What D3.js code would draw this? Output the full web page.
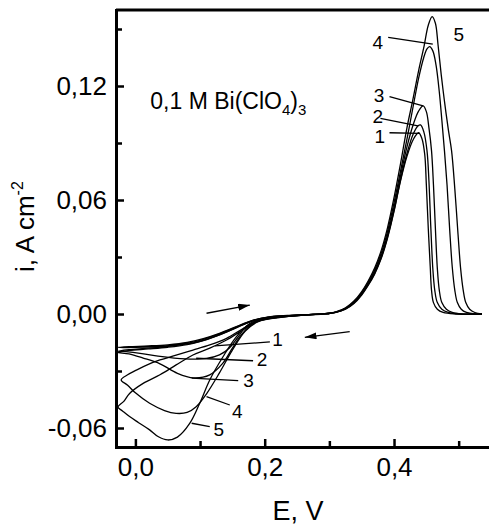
<!DOCTYPE html>
<html>
<head>
<meta charset="utf-8">
<script src="https://cdn.jsdelivr.net/npm/d3@7"></script>
<style>
  body { margin: 0; background: #fff; }
  svg { display: block; font-family: "Liberation Sans", Arial, sans-serif; }
</style>
</head>
<body>
<div id="chart"></div>
<script>
////////////////////////////////////////////////////////////////////////
// Data: voltammograms, [E (V), i (A cm-2)]
// each one starts at ~0.3 V, goes left through the cathodic dip,
// comes back and runs over the stripping peak to the right end

const cv1 = [[0.30,0.0002],[0.26,-0.0004],[0.22,-0.0013],[0.19,-0.0028],[0.165,-0.0058],[0.14,-0.0095],[0.115,-0.0128],[0.09,-0.0152],[0.06,-0.0166],[0.03,-0.0173],[0.0,-0.0176],[-0.027,-0.0176],
  [-0.01,-0.0172],[0.02,-0.0168],[0.05,-0.0162],[0.08,-0.0150],[0.105,-0.0130],[0.13,-0.0102],[0.155,-0.0068],[0.18,-0.0035],[0.205,-0.0016],[0.235,-0.0008],[0.265,-0.0004],[0.29,0.0],[0.31,0.0008],[0.325,0.0025],[0.338,0.0055],[0.35,0.0100],[0.36,0.0150],[0.37,0.0210],[0.38,0.0290],[0.39,0.0400],[0.40,0.0540],[0.41,0.0700],[0.42,0.0830],[0.43,0.0920],[0.438,0.0954],[0.443,0.0925],[0.4475,0.084],[0.450,0.068],[0.453,0.045],[0.456,0.025],[0.458,0.0126],[0.461,0.006],[0.467,0.0025],[0.476,0.0008],[0.495,0.0],[0.536,0.0]];

const cv2 = [[0.30,0.0002],[0.26,-0.0005],[0.22,-0.0016],[0.19,-0.0035],[0.172,-0.0065],[0.158,-0.0125],[0.145,-0.018],[0.13,-0.0215],[0.11,-0.0234],[0.09,-0.0238],[0.06,-0.0232],[0.035,-0.0222],[0.01,-0.0208],[-0.015,-0.0198],[-0.027,-0.0196],
  [-0.01,-0.0188],[0.02,-0.0180],[0.05,-0.0170],[0.08,-0.0155],[0.105,-0.0133],[0.13,-0.0104],[0.155,-0.0070],[0.18,-0.0036],[0.205,-0.0017],[0.235,-0.0009],[0.265,-0.0004],[0.29,0.0001],[0.31,0.0009],[0.325,0.0027],[0.338,0.0058],[0.35,0.0103],[0.36,0.0154],[0.37,0.0214],[0.38,0.0295],[0.39,0.0405],[0.40,0.0545],[0.41,0.0705],[0.42,0.0845],[0.43,0.0950],[0.437,0.0990],[0.441,0.0995],[0.446,0.096],[0.451,0.086],[0.454,0.070],[0.457,0.045],[0.460,0.024],[0.463,0.0126],[0.467,0.006],[0.474,0.0025],[0.484,0.0008],[0.50,0.0],[0.536,0.0]];

const cv3 = [[0.30,0.0002],[0.26,-0.0006],[0.22,-0.0018],[0.19,-0.0038],[0.178,-0.006],[0.165,-0.0105],[0.15,-0.018],[0.135,-0.026],[0.115,-0.032],[0.09,-0.0336],[0.065,-0.0312],[0.038,-0.0262],[0.012,-0.0232],[-0.01,-0.021],[-0.027,-0.0202],
  [-0.01,-0.0192],[0.02,-0.0184],[0.05,-0.0175],[0.08,-0.0161],[0.105,-0.0140],[0.13,-0.0110],[0.155,-0.0074],[0.18,-0.0038],[0.205,-0.0018],[0.235,-0.0009],[0.265,-0.0004],[0.29,0.0001],[0.31,0.0010],[0.325,0.0029],[0.338,0.0061],[0.35,0.0108],[0.36,0.0160],[0.37,0.0222],[0.38,0.0305],[0.39,0.0418],[0.40,0.0562],[0.41,0.0725],[0.42,0.0880],[0.43,0.1000],[0.438,0.1068],[0.445,0.1095],[0.45,0.1065],[0.454,0.098],[0.458,0.086],[0.461,0.068],[0.464,0.045],[0.467,0.024],[0.470,0.0126],[0.474,0.006],[0.481,0.0025],[0.49,0.0008],[0.505,0.0],[0.536,0.0]];

const cv4 = [[0.30,0.0002],[0.26,-0.0006],[0.22,-0.002],[0.19,-0.004],[0.17,-0.009],[0.15,-0.019],[0.13,-0.031],[0.11,-0.042],[0.094,-0.0488],[0.08,-0.0518],[0.063,-0.0523],[0.045,-0.0508],[0.022,-0.047],[0.0,-0.0415],[-0.012,-0.0375],[-0.022,-0.0347],
  [-0.012,-0.032],[0.0015,-0.0295],[0.02,-0.0265],[0.038,-0.0242],[0.063,-0.0216],[0.089,-0.019],[0.115,-0.0163],[0.141,-0.0128],[0.166,-0.0078],[0.19,-0.0038],[0.215,-0.0019],[0.24,-0.0009],[0.265,-0.0004],[0.29,0.0001],[0.31,0.0010],[0.325,0.0030],[0.338,0.0064],[0.35,0.0113],[0.36,0.0167],[0.37,0.0232],[0.38,0.0318],[0.39,0.0435],[0.40,0.0585],[0.41,0.0750],[0.42,0.0920],[0.43,0.1100],[0.438,0.1240],[0.446,0.1350],[0.451,0.1395],[0.455,0.1407],[0.46,0.1385],[0.465,0.131],[0.47,0.117],[0.474,0.102],[0.478,0.086],[0.482,0.068],[0.486,0.045],[0.490,0.025],[0.494,0.0126],[0.498,0.006],[0.504,0.0025],[0.512,0.0008],[0.525,0.0],[0.536,0.0]];

const cv5 = [[0.30,0.0002],[0.26,-0.0006],[0.22,-0.0018],[0.195,-0.0028],[0.177,-0.005],[0.156,-0.012],[0.1355,-0.0225],[0.115,-0.0347],[0.0995,-0.047],[0.084,-0.0576],[0.065,-0.0648],[0.05,-0.0663],[0.035,-0.0645],[0.022,-0.061],[0.005,-0.0572],[-0.009,-0.054],[-0.02,-0.051],[-0.027,-0.049],
  [-0.018,-0.046],[-0.009,-0.0418],[0.012,-0.0365],[0.038,-0.032],[0.063,-0.0268],[0.089,-0.0216],[0.115,-0.018],[0.141,-0.0137],[0.166,-0.0084],[0.187,-0.0042],[0.21,-0.0020],[0.235,-0.0010],[0.265,-0.0004],[0.29,0.0001],[0.31,0.0011],[0.325,0.0032],[0.338,0.0068],[0.35,0.0118],[0.36,0.0174],[0.37,0.0242],[0.38,0.0332],[0.39,0.0455],[0.40,0.0612],[0.41,0.0790],[0.42,0.0980],[0.429,0.1126],[0.438,0.128],[0.4465,0.141],[0.453,0.152],[0.459,0.1565],[0.464,0.153],[0.468,0.142],[0.473,0.126],[0.478,0.112],[0.484,0.097],[0.489,0.086],[0.494,0.066],[0.499,0.042],[0.503,0.024],[0.507,0.0126],[0.511,0.006],[0.517,0.0025],[0.525,0.0008],[0.536,0.0]];

const curves = [cv1, cv2, cv3, cv4, cv5];

// tick values
const xMajor = [0, 0.2, 0.4];
const xMinor = [0.1, 0.3, 0.5];
const yMajor = [-0.06, 0, 0.06, 0.12];
const yMinor = [-0.03, 0.03, 0.09, 0.15];

// curve number labels: name, label spot, leader line (all in E, i)
const topLabels = [
  {name: "1", at: [0.378, 0.0936], from: [0.393, 0.0954], to: [0.440, 0.0951]},
  {name: "2", at: [0.375, 0.1040], from: [0.379, 0.1030], to: [0.437, 0.0990]},
  {name: "3", at: [0.377, 0.1150], from: [0.393, 0.1144], to: [0.445, 0.1095]},
  {name: "4", at: [0.375, 0.1430], from: [0.391, 0.1456], to: [0.460, 0.1420]},
  {name: "5", at: [0.500, 0.1470], from: null, to: null}
];
const bottomLabels = [
  {name: "1", at: [0.220, -0.0134], from: [0.123, -0.0168], to: [0.208, -0.0147]},
  {name: "2", at: [0.196, -0.0237], from: [0.094, -0.0233], to: [0.182, -0.0246]},
  {name: "3", at: [0.175, -0.0347], from: [0.087, -0.0338], to: [0.159, -0.0351]},
  {name: "4", at: [0.1575, -0.0510], from: [0.110, -0.0435], to: [0.146, -0.0479]},
  {name: "5", at: [0.129, -0.0605], from: [0.087, -0.0575], to: [0.115, -0.0593]}
];

// sweep direction arrows
const arrows = [
  {from: [0.110, 0.0004], to: [0.177, 0.0047]},
  {from: [0.3315, -0.0093], to: [0.262, -0.0123]}
];

////////////////////////////////////////////////////////////////////////
// Setup

const width = 489;
const height = 526;

let xScale = d3.scaleLinear().domain([-0.03, 0.55]).range([116, 491]);
let yScale = d3.scaleLinear().domain([-0.07, 0.16]).range([447, 10]);

let svg = d3.select("#chart").append("svg")
  .attr("width", width).attr("height", height);

svg.append("defs").append("marker")
  .attr("id", "head")
  .attr("viewBox", "0 0 10 6")
  .attr("refX", 10).attr("refY", 3)
  .attr("markerWidth", 12).attr("markerHeight", 7)
  .attr("markerUnits", "userSpaceOnUse")
  .attr("orient", "auto")
  .append("path")
  .attr("d", "M0,0 L10,3 L0,6 Z")
  .attr("fill", "black");

// the curves
let line = d3.line()
  .x(d => xScale(d[0]))
  .y(d => yScale(d[1]))
  .curve(d3.curveCatmullRom.alpha(0.5));

svg.append("g")
  .selectAll("path")
  .data(curves)
  .enter()
  .append("path")
  .attr("d", line)
  .attr("fill", "none")
  .attr("stroke", "black")
  .attr("stroke-width", 1.3);

// axes, ticks pointing inward
let commaFmt = f => d => d3.format(f)(d).replace("\u2212", "-").replace(".", ",");

let xAxis = d3.axisBottom(xScale).tickValues(xMajor)
  .tickSizeInner(-8).tickSizeOuter(0).tickPadding(11)
  .tickFormat(commaFmt(".1f"));
let xAxisMinor = d3.axisBottom(xScale).tickValues(xMinor)
  .tickSizeInner(-6).tickSizeOuter(0).tickFormat("");
let yAxis = d3.axisLeft(yScale).tickValues(yMajor)
  .tickSizeInner(-8).tickSizeOuter(0).tickPadding(9)
  .tickFormat(commaFmt(".2f"));
let yAxisMinor = d3.axisLeft(yScale).tickValues(yMinor)
  .tickSizeInner(-6).tickSizeOuter(0).tickFormat("");

function styleAxis(g) {
  g.select(".domain").attr("stroke-width", 3).attr("stroke-linecap", "square");
  g.selectAll(".tick line").attr("stroke-width", 2.5);
  g.selectAll(".tick text")
    .attr("font-size", 26)
    .attr("font-family", "Liberation Sans, Arial, sans-serif")
    .attr("fill", "black");
}

svg.append("g").attr("transform", `translate(0, ${yScale(-0.07)})`).call(xAxisMinor).call(styleAxis);
svg.append("g").attr("transform", `translate(0, ${yScale(-0.07)})`).call(xAxis).call(styleAxis);
svg.append("g").attr("transform", `translate(${xScale(-0.03)}, 0)`).call(yAxisMinor).call(styleAxis);
svg.append("g").attr("transform", `translate(${xScale(-0.03)}, 0)`).call(yAxis).call(styleAxis);

// top frame line
svg.append("line")
  .attr("x1", xScale(-0.03)).attr("x2", width + 2)
  .attr("y1", yScale(0.16)).attr("y2", yScale(0.16))
  .attr("stroke", "black").attr("stroke-width", 3);

// axis titles
svg.append("text")
  .attr("x", 298).attr("y", 520)
  .attr("text-anchor", "middle")
  .attr("font-size", 27)
  .text("E, V");

let yTitle = svg.append("text")
  .attr("transform", "translate(34, 272) rotate(-90)")
  .attr("font-size", 26);
yTitle.append("tspan").text("i, A cm");
yTitle.append("tspan").attr("font-size", 16).attr("dy", -11).text("-2");

// solution label
let sol = svg.append("text")
  .attr("x", xScale(0.023)).attr("y", yScale(0.108))
  .attr("font-size", 23);
sol.append("tspan").text("0,1 M Bi(ClO");
sol.append("tspan").attr("font-size", 15).attr("dy", 6).text("4");
sol.append("tspan").attr("dy", -6).text(")");
sol.append("tspan").attr("font-size", 15).attr("dy", 6).text("3");

// curve numbers with leaders
let allLabels = topLabels.concat(bottomLabels);

svg.append("g")
  .selectAll("line")
  .data(allLabels.filter(d => d.from !== null))
  .enter()
  .append("line")
  .attr("x1", d => xScale(d.from[0])).attr("y1", d => yScale(d.from[1]))
  .attr("x2", d => xScale(d.to[0])).attr("y2", d => yScale(d.to[1]))
  .attr("stroke", "black").attr("stroke-width", 1.3);

svg.append("g")
  .selectAll("text")
  .data(allLabels)
  .enter()
  .append("text")
  .attr("x", d => xScale(d.at[0]))
  .attr("y", d => yScale(d.at[1]))
  .attr("dy", "0.35em")
  .attr("text-anchor", "middle")
  .attr("font-size", 19)
  .text(d => d.name);

// sweep arrows
svg.append("g")
  .selectAll("line")
  .data(arrows)
  .enter()
  .append("line")
  .attr("x1", d => xScale(d.from[0])).attr("y1", d => yScale(d.from[1]))
  .attr("x2", d => xScale(d.to[0])).attr("y2", d => yScale(d.to[1]))
  .attr("stroke", "black").attr("stroke-width", 1.3)
  .attr("marker-end", "url(#head)");
</script>
</body>
</html>
